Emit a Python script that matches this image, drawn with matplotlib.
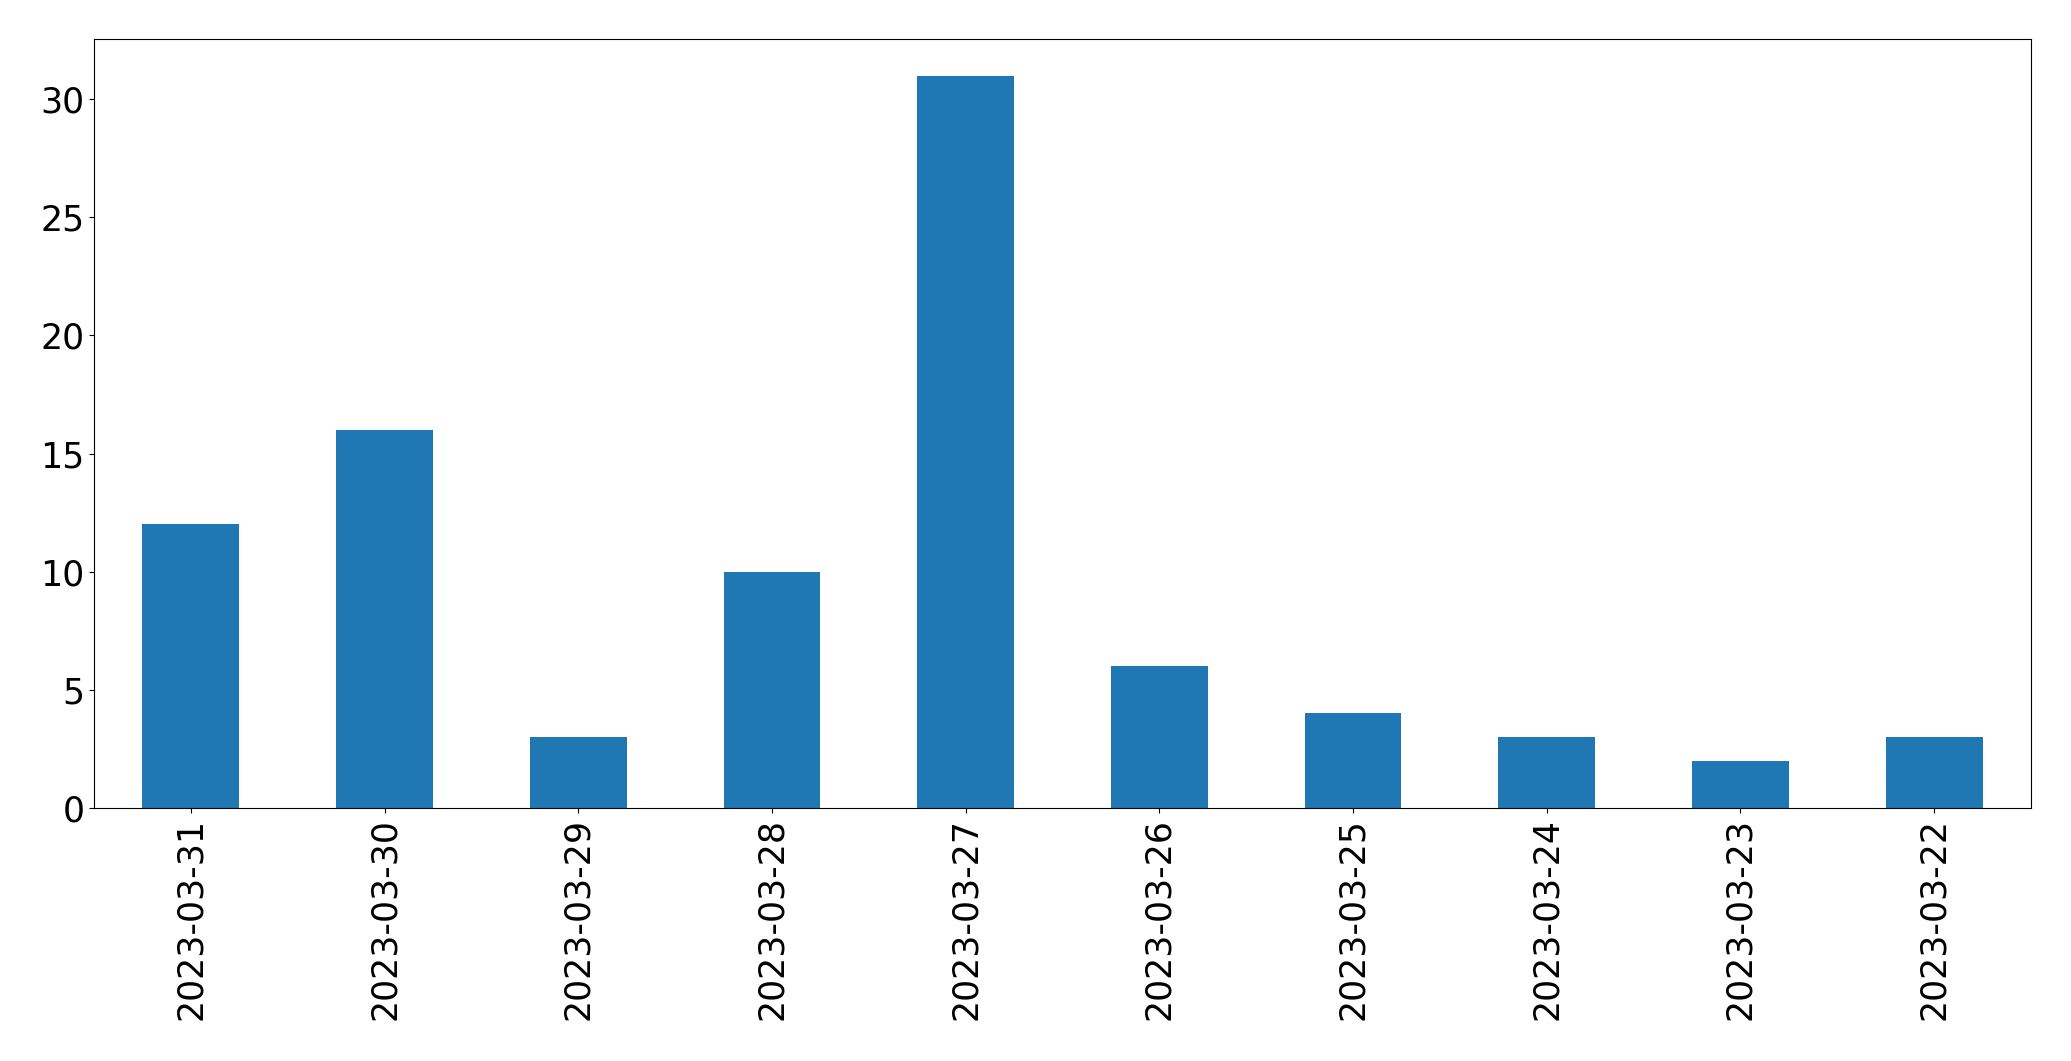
import matplotlib
matplotlib.use("Agg")
import matplotlib.pyplot as plt
import pandas as pd

# daily counts, newest first (as in the original pandas plot)
dates = ["2023-03-31", "2023-03-30", "2023-03-29", "2023-03-28", "2023-03-27",
         "2023-03-26", "2023-03-25", "2023-03-24", "2023-03-23", "2023-03-22"]
counts = [12, 16, 3, 10, 31, 6, 4, 3, 2, 3]

s = pd.Series(counts, index=dates)

fig = plt.figure(figsize=(20.71, 10.61), dpi=100)
ax = fig.add_axes([94 / 2071, 1 - 808 / 1061, (2031 - 94) / 2071, (808 - 39) / 1061])

s.plot(kind="bar", ax=ax, color="#1f77b4")
ax.tick_params(axis="both", labelsize=25)
ax.set_yticks([0, 5, 10, 15, 20, 25, 30])

fig.savefig("out.png", dpi=100)
